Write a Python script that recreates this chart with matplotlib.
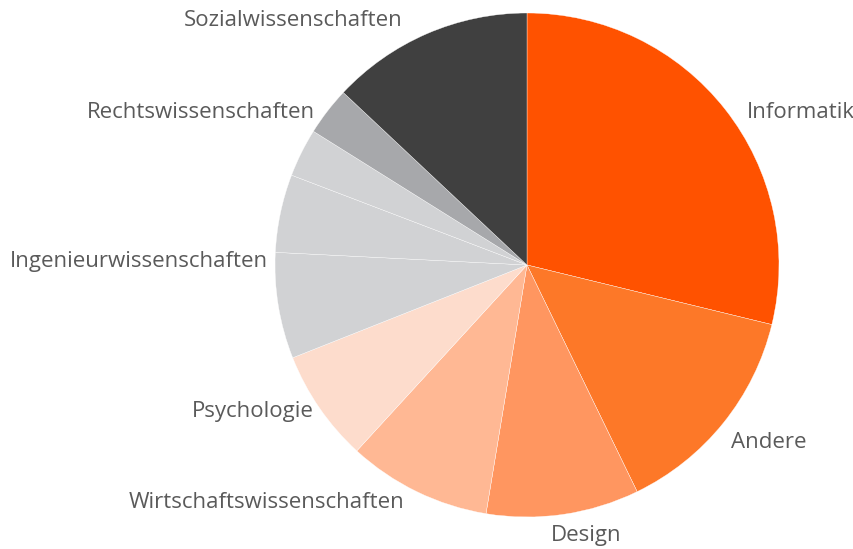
import matplotlib
matplotlib.use("Agg")
import matplotlib.pyplot as plt

# -------------------------------
# Data (share in %)
# -------------------------------
labels = ["Informatik", "Andere", "Design", "Wirtschaftswissenschaften",
          "Psychologie", "Ingenieurwissenschaften", "", "",
          "Rechtswissenschaften", "Sozialwissenschaften"]
shares = [28.8, 14.0, 9.8, 9.2, 7.2, 6.8, 5.0, 3.1, 3.1, 13.0]
colors = ["#ff5200", "#fd7828", "#ff9660", "#ffb894", "#fddccc",
          "#d1d2d4", "#d1d2d4", "#d1d2d4", "#a7a8ab", "#404040"]

# -------------------------------
# Layout (pixels of the 854x549 canvas)
# -------------------------------
W, H = 854, 549
cx, cy, R = 527, 265, 252
# label anchor (px) and alignment, one per non-empty label
label_pos = {
    "Informatik": (747, 112, "left"),
    "Andere": (731, 443, "left"),
    "Design": (551, 535, "left"),
    "Wirtschaftswissenschaften": (404, 502, "right"),
    "Psychologie": (314, 412, "right"),
    "Ingenieurwissenschaften": (268, 262, "right"),
    "Rechtswissenschaften": (315, 112, "right"),
    "Sozialwissenschaften": (403, 20, "right"),
}

plt.rcParams['font.family'] = ['Open Sans', 'DejaVu Sans']

fig = plt.figure(figsize=(W / 100, H / 100), dpi=100)
ax = fig.add_axes([0, 0, 1, 1])

wedges, texts = ax.pie(shares, labels=labels, colors=colors,
                       startangle=90, counterclock=False,
                       wedgeprops=dict(edgecolor="white", linewidth=0.25),
                       textprops=dict(fontsize=16, color="#5a5a5a"))

# move the labels to where the reference puts them
for t in texts:
    name = t.get_text()
    if name in label_pos:
        px, py, ha = label_pos[name]
        t.set_position(((px - cx) / R, (cy - py) / R))
        t.set_ha(ha)
        t.set_va("center")

ax.set_aspect("auto")
ax.set_xlim(-cx / R, (W - cx) / R)
ax.set_ylim(-(H - cy) / R, cy / R)
ax.axis("off")

plt.savefig("out.png", dpi=100)
